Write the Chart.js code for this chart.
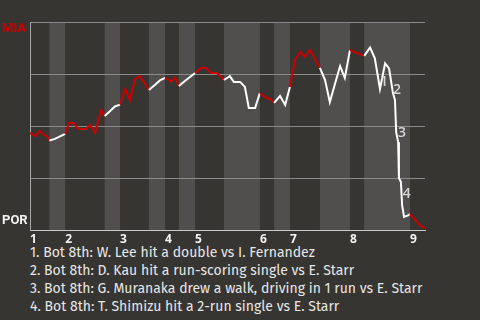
<!DOCTYPE html>
<html>
<head>
<meta charset="utf-8">
<script src="https://cdn.jsdelivr.net/npm/chart.js@4.4.1/dist/chart.umd.min.js"></script>
<style>
  html, body { margin: 0; padding: 0; background: #373531; }
  #wrap { position: relative; width: 480px; height: 244px; }
  #notes {
    padding-left: 30px;
    font-family: "Fira Sans", "Open Sans", sans-serif;
    font-size: 14px;
    line-height: 18px;
    color: #e6e6e6;
    white-space: nowrap;
  }
</style>
</head>
<body>
<div id="wrap"><canvas id="wpChart"></canvas></div>
<div id="notes"></div>
<script>
// innings and where each one starts along the game (0..100)
const innings = ['1', '2', '3', '4', '5', '6', '7', '8', '9'];
const inningStart = [0, 8.9, 22.8, 34.2, 41.8, 58.2, 65.8, 81.0, 96.2];
// half-inning boundaries: top, bottom, top, bottom ...
const halfBounds = [0, 4.9, 8.9, 18.9, 22.8, 30.1, 34.2, 37.7, 41.8, 49.1, 58.2,
                    61.8, 65.8, 73.4, 81.0, 84.6, 96.2, 100];

// game progress and MIA win probability (%)
const playX = [0, 0.8, 1.3, 2.5, 3.5, 4.3, 4.9,
  6.3, 7.6, 8.9,
  9.9, 11.1, 12.2, 14.2, 15.2, 16.5, 18.0, 18.9,
  20.3, 21.5, 22.8,
  24.1, 25.3, 26.6, 27.8, 30.1,
  31.6, 32.9, 34.2,
  35.7, 36.7, 37.7,
  39.2, 40.5, 41.8,
  43.3, 44.6, 45.8, 47.3, 49.1,
  50.6, 51.6, 53.2, 54.4, 55.4, 57.0, 58.2,
  59.5, 60.8, 61.8,
  63.3, 64.6, 65.8,
  67.1, 68.4, 69.6, 70.9, 73.4,
  74.7, 75.9, 78.5, 79.7, 81.0,
  82.8, 84.6,
  86.1, 87.3, 88.6, 89.9, 90.9, 91.9, 92.4, 92.7, 93.2, 93.4, 93.9, 94.2, 94.7, 95.7, 96.2,
  97.5, 98.7, 100];
const miaWin = [46.6, 45.7, 45.2, 47.6, 45.7, 45.2, 43.0,
  43.8, 45.0, 46.2,
  51.4, 51.4, 48.6, 48.6, 50.5, 46.6, 57.7, 54.8,
  57.2, 59.4, 60.3,
  67.8, 62.5, 72.6, 74.0, 67.3,
  69.7, 71.9, 73.1,
  71.4, 73.3, 69.2,
  71.6, 73.6, 75.5,
  77.9, 77.9, 75.5, 75.5, 72.1,
  74.0, 71.2, 71.2, 68.8, 58.7, 58.7, 65.9,
  63.9, 63.0, 61.1,
  64.4, 60.1, 68.8,
  81.7, 85.6, 83.2, 86.5, 77.9,
  72.1, 61.5, 78.8, 73.1, 86.5,
  85.1, 83.7,
  87.7, 82.5, 67.8, 80.1, 77.7, 65.7, 62.5, 47.1, 42.3, 25.0, 23.1, 12.0, 6.3, 7.0, 7.7,
  4.8, 2.4, 0.7];

// key plays: label spot on the chart and description
const noteLabels = ['1', '2', '3', '4'];
const noteX = [89.6, 92.9, 94.2, 95.4];
const noteY = [71.2, 67.3, 46.6, 17.3];
const noteText = [
  '1. Bot 8th: W. Lee hit a double vs I. Fernandez',
  '2. Bot 8th: D. Kau hit a run-scoring single vs E. Starr',
  '3. Bot 8th: G. Muranaka drew a walk, driving in 1 run vs E. Starr',
  '4. Bot 8th: T. Shimizu hit a 2-run single vs E. Starr'
];

document.getElementById('notes').innerHTML = noteText.join('<br>');

function isBottomHalf(x) {
  for (let i = 1; i < halfBounds.length - 1; i += 2) {
    if (x > halfBounds[i] && x < halfBounds[i + 1]) return true;
  }
  return false;
}

const bandsPlugin = {
  id: 'bands',
  beforeDraw(chart) {
    const { ctx, chartArea: a, scales: { x } } = chart;
    ctx.save();
    ctx.fillStyle = '#504f4d';
    for (let i = 1; i < halfBounds.length - 1; i += 2) {
      const x0 = x.getPixelForValue(halfBounds[i]);
      const x1 = x.getPixelForValue(halfBounds[i + 1]);
      ctx.fillRect(x0, a.top, x1 - x0, a.bottom - a.top);
    }
    ctx.restore();
  }
};

const labelsPlugin = {
  id: 'labels',
  afterDatasetsDraw(chart) {
    const { ctx, chartArea: a, scales: { x, y } } = chart;
    ctx.save();
    ctx.textBaseline = 'middle';
    ctx.font = 'bold 13px Roboto, sans-serif';
    ctx.fillStyle = '#cc0000';
    ctx.fillText('MIA', 2, a.top + 7);
    ctx.fillStyle = '#f2f2f2';
    ctx.fillText('POR', 2, a.bottom - 9);

    ctx.font = '600 14px "Open Sans", sans-serif';
    ctx.fillStyle = '#d4d4d4';
    ctx.textAlign = 'center';
    noteLabels.forEach((t, i) => {
      ctx.fillText(t, x.getPixelForValue(noteX[i]), y.getPixelForValue(noteY[i]));
    });
    ctx.restore();
  }
};

new Chart(document.getElementById('wpChart'), {
  type: 'line',
  data: {
    datasets: [{
      data: playX.map((v, i) => ({ x: v, y: miaWin[i] })),
      borderWidth: 2,
      borderColor: '#cc0000',
      pointRadius: 0,
      tension: 0,
      segment: {
        borderColor: c => isBottomHalf((c.p0.parsed.x + c.p1.parsed.x) / 2) ? '#ffffff' : '#cc0000'
      }
    }]
  },
  options: {
    responsive: true,
    maintainAspectRatio: false,
    animation: false,
    layout: { padding: { top: 22, right: 55, left: 0, bottom: 0 } },
    plugins: { legend: { display: false }, tooltip: { enabled: false } },
    scales: {
      x: {
        type: 'linear',
        min: 0,
        max: 100,
        afterFit: s => { s.height = 14; },
        afterBuildTicks: s => { s.ticks = inningStart.map(v => ({ value: v })); },
        grid: { display: false, drawTicks: false },
        border: { color: '#c8c8c8', width: 1 },
        ticks: {
          autoSkip: false,
          maxRotation: 0,
          align: 'start',
          padding: 2,
          color: '#f2f2f2',
          font: { family: '"Open Sans", sans-serif', size: 12, weight: 'bold' },
          callback: (v, i) => innings[i]
        }
      },
      y: {
        min: 0,
        max: 100,
        afterFit: s => { s.width = 30; },
        afterBuildTicks: s => { s.ticks = [0, 25, 50, 75, 100].map(v => ({ value: v })); },
        grid: { color: '#8a8a8a', drawTicks: false },
        border: { color: '#a8a8a8', width: 1 },
        ticks: { display: false }
      }
    }
  },
  plugins: [bandsPlugin, labelsPlugin]
});
</script>
</body>
</html>
